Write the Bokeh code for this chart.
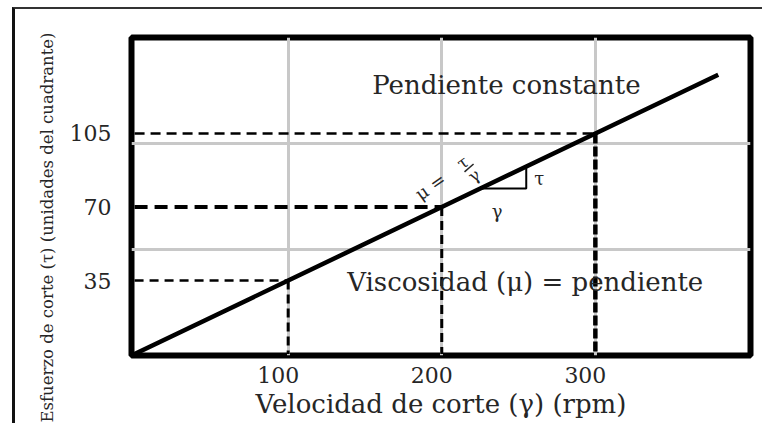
from bokeh.plotting import figure
from bokeh.models import FixedTicker, LinearAxis, Range1d, Label, Title
from bokeh.embed import file_html
from bokeh.resources import INLINE

# ---- data ----
shear_rate = [0, 100, 200, 300, 380]          # rpm
shear_stress = [0, 35, 70, 105, 133]          # dial units
marked_rate = [100, 200, 300]
marked_stress = [35, 70, 105]
x_ticks = [100, 200, 300]
y_ticks = [35, 70, 105]
grid_x = [100, 200, 300]
grid_y = [50, 100]
tri_x = [225, 255, 255]
tri_y = [78.75, 78.75, 89.25]
frac_x = [214.8, 220.7]
frac_y = [86.7, 90.5]
x_title = "Velocidad de corte (γ) (rpm)"
y_title = "Esfuerzo de corte (τ) (unidades del cuadrante)"
note_top = "Pendiente constante"
note_bottom = "Viscosidad (μ) = pendiente"

FONT = "DejaVu Serif"
TXT = "#262626"

p = figure(width=750, height=416,
           x_range=Range1d(-2, 401), y_range=Range1d(-0.7, 150.7),
           output_backend="svg", toolbar_location=None,
           min_border_left=116, min_border_right=15,
           min_border_top=28, min_border_bottom=70)
p.styles = {"border-top": "2px solid #333", "border-left": "3px solid #111",
            "margin-left": "12px", "margin-top": "7px"}

p.outline_line_color = "black"
p.outline_line_width = 6
p.background_fill_color = "white"
p.border_fill_color = "white"

# grids
p.xgrid.ticker = FixedTicker(ticks=grid_x)
p.ygrid.ticker = FixedTicker(ticks=grid_y)
for g in (p.xgrid[0], p.ygrid[0]):
    g.grid_line_color = "#c8c8c8"
    g.grid_line_width = 3

# default x axis hidden; labelled axis on a shifted range
p.xaxis[0].visible = False
p.extra_x_ranges = {"lab": Range1d(4.5, 407.5)}
xax = LinearAxis(x_range_name="lab", ticker=FixedTicker(ticks=x_ticks),
                 axis_label=x_title)
p.add_layout(xax, "below")

yax = p.yaxis[0]
yax.ticker = FixedTicker(ticks=y_ticks)

for ax in (xax, yax):
    ax.axis_line_color = None
    ax.major_tick_line_color = None
    ax.minor_tick_line_color = None
    ax.major_label_text_font = FONT
    ax.major_label_text_font_size = "22px"
    ax.major_label_text_color = TXT
    ax.axis_label_text_font = FONT
    ax.axis_label_text_font_style = "normal"
    ax.axis_label_text_color = TXT
xax.major_label_standoff = 5
xax.axis_label_text_font_size = "26px"
xax.axis_label_standoff = 3
yax.major_label_standoff = 14

# y title, placed left of the y axis, starting below the frame
p.add_layout(Title(text=y_title, align="left", offset=-67, standoff=20,
                   text_font=FONT, text_font_size="16.5px",
                   text_font_style="normal", text_color=TXT), "left")

# dashed guide lines
h_w = [2.5, 4, 2.5]
h_dash = ["9 6", "13 7", "10 6"]
v_w = [3, 3, 4.5]
v_dash = ["9 5", "9 5", "10 3"]
for i, (xv, yv) in enumerate(zip(marked_rate, marked_stress)):
    p.segment(x0=[0], y0=[yv], x1=[xv], y1=[yv], line_color="black",
              line_width=h_w[i], line_dash=h_dash[i])
    p.segment(x0=[xv], y0=[yv], x1=[xv], y1=[0], line_color="black",
              line_width=v_w[i], line_dash=v_dash[i])

# main line
p.line(shear_rate, shear_stress, line_color="black", line_width=4.5)

# slope triangle
p.line(tri_x, tri_y, line_color="black", line_width=2)

# fraction bar of the rotated mu = tau / gamma
p.line(frac_x, frac_y, line_color="#262626", line_width=1.5)

def lab(x, y, text, size, angle=0, align="left", baseline="alphabetic"):
    p.add_layout(Label(x=x, y=y, text=text, angle=angle, angle_units="deg",
                       text_align=align, text_baseline=baseline,
                       text_font=FONT, text_font_size=size, text_color=TXT))

lab(154.7, 127.9, note_top, "26px")
lab(138.4, 34.5, note_bottom, "26px")
lab(263.5, 83.6, "τ", "18px", align="center", baseline="middle")
lab(236, 67.8, "γ", "18px", align="center", baseline="middle")
lab(192.5, 79.8, "μ =", "18px", angle=35, align="center", baseline="middle")
lab(213.4, 91.2, "τ", "17px", angle=35, align="center", baseline="middle")
lab(221, 85, "γ", "17px", angle=35, align="center", baseline="middle")

open("out.html", "w").write(file_html(p, INLINE))
